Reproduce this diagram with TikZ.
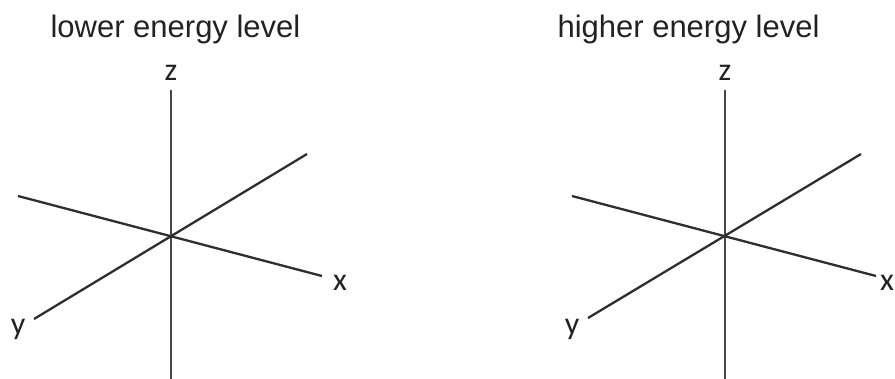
\documentclass[tikz,border=0pt]{standalone}
\usepackage{fontspec}
\setmainfont{Liberation Sans}
\newfontfamily\axisfont{Carlito}
\usetikzlibrary{positioning}
\definecolor{ink}{HTML}{222222}
\definecolor{axisink}{HTML}{2E2E2E}
\definecolor{zink}{HTML}{474747}
\tikzset{
  title/.style={font=\fontsize{31}{36}\selectfont, text=ink, inner sep=0pt},
  axlabel/.style={font=\axisfont\fontsize{32}{36}\selectfont, text=ink, inner sep=0pt},
  axisline/.style={line width=2.3pt, draw=axisink},
  zline/.style={line width=2.3pt, draw=zink}
}

\begin{document}
\begin{tikzpicture}[x=1pt, y=-1pt]
  \useasboundingbox (0,0) rectangle (895,379);

  % lower energy level
  \node[title] (lotitle) at (175.5,29) {lower energy level};
  \node[axlabel] (loz) at (171,73) {z};
  \node[axlabel] (lox) at (340,283) {x};
  \node[axlabel] (loy) at (18,329) {y};
  \coordinate (lotop) at (171,90);
  \coordinate (lobot) at (171,385);
  \coordinate (loleft) at (18,196);
  \coordinate (loright) at (322,276);
  \coordinate (loback) at (307,154);
  \coordinate (lofront) at (34,319);

  \draw[zline] (lotop) -- (lobot);
  \draw[axisline] (loleft) -- (loright);
  \draw[axisline] (lofront) -- (loback);

  % higher energy level
  \node[title] (hititle) at (688.5,29) {higher energy level};
  \node[axlabel] (hiz) at (725,73) {z};
  \node[axlabel] (hix) at (887,283) {x};
  \node[axlabel] (hiy) at (572,329) {y};
  \coordinate (hitop) at (725,90);
  \coordinate (hibot) at (725,385);
  \coordinate (hileft) at (572,196);
  \coordinate (hiright) at (876,276);
  \coordinate (hiback) at (861,154);
  \coordinate (hifront) at (588,318);

  \draw[zline] (hitop) -- (hibot);
  \draw[axisline] (hileft) -- (hiright);
  \draw[axisline] (hifront) -- (hiback);
\end{tikzpicture}
\end{document}
